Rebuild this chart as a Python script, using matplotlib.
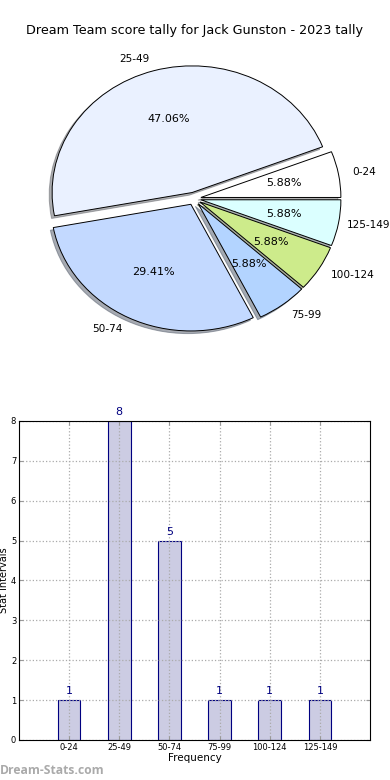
import matplotlib
matplotlib.use('Agg')
import matplotlib.pyplot as plt

# data
ranges = ['0-24', '25-49', '50-74', '75-99', '100-124', '125-149']
counts = [1, 8, 5, 1, 1, 1]
pie_colors = ['#ffffff', '#eaf1ff', '#c3d9ff', '#b3d4ff', '#cdeb8b', '#dbffff']
title = 'Dream Team score tally for Jack Gunston - 2023 tally'

fig = plt.figure(figsize=(3.9, 7.8), dpi=100)

#########
## Pie ##
#########
ax1 = fig.add_axes([0.0667, 0.5505, 0.8615, 0.3897])
wedges, labels, pcts = ax1.pie(
    counts, labels=ranges, colors=pie_colors, autopct='%.2f%%',
    explode=[0.05] * len(counts),
    shadow={'ox': -0.015, 'oy': -0.015, 'shade': 0.6},
    startangle=0, counterclock=True, labeldistance=1.1, pctdistance=0.6,
    wedgeprops={'edgecolor': 'black', 'linewidth': 0.7},
    textprops={'fontsize': 8})
for t in labels:
    t.set_fontsize(7.6)
# pull the last label in a touch so it stays inside the figure
lx, ly = labels[-1].get_position()
labels[-1].set_position((lx - 0.04, ly))
ax1.set_aspect('auto')
ax1.set_xlim(-1.2, 1.2)
ax1.set_ylim(-1.2, 1.2)
ax1.axis('off')
fig.text(0.5, 0.961, title, ha='center', va='center', fontsize=9.2)

#########
## Bar ##
#########
ax2 = fig.add_axes([0.0487, 0.0513, 0.9, 0.409])
xs = list(range(1, len(ranges) + 1))
ax2.bar(xs, counts, width=0.45, color='#cccce3', edgecolor='#000080',
        linewidth=0.8, zorder=2)
for x, c in zip(xs, counts):
    ax2.text(x, c + 0.1, str(c), ha='center', va='bottom', color='#000080',
             fontsize=8)
ax2.set_xlim(0, 7)
ax2.set_ylim(0, 8)
ax2.set_xticks(xs)
ax2.set_xticklabels(ranges)
ax2.set_yticks(range(0, 9))
ax2.tick_params(direction='in', top=True, right=True, labelsize=6, length=3,
                color='#999999', pad=2)
ax2.grid(True, linestyle=':', color='#aaaaaa', linewidth=0.9, zorder=3)
ax2.set_axisbelow(False)
for s in ax2.spines.values():
    s.set_zorder(5)
ax2.set_xlabel('Frequency', fontsize=7.5, labelpad=1)
ax2.set_ylabel('Stat Intervals', fontsize=7, labelpad=1)

fig.text(0.0, 0.012, 'Dream-Stats.com', fontsize=8.7, color='#aaaaaa',
         fontweight='bold', family='Open Sans', ha='left', va='center')

fig.savefig('out.png', dpi=100)
